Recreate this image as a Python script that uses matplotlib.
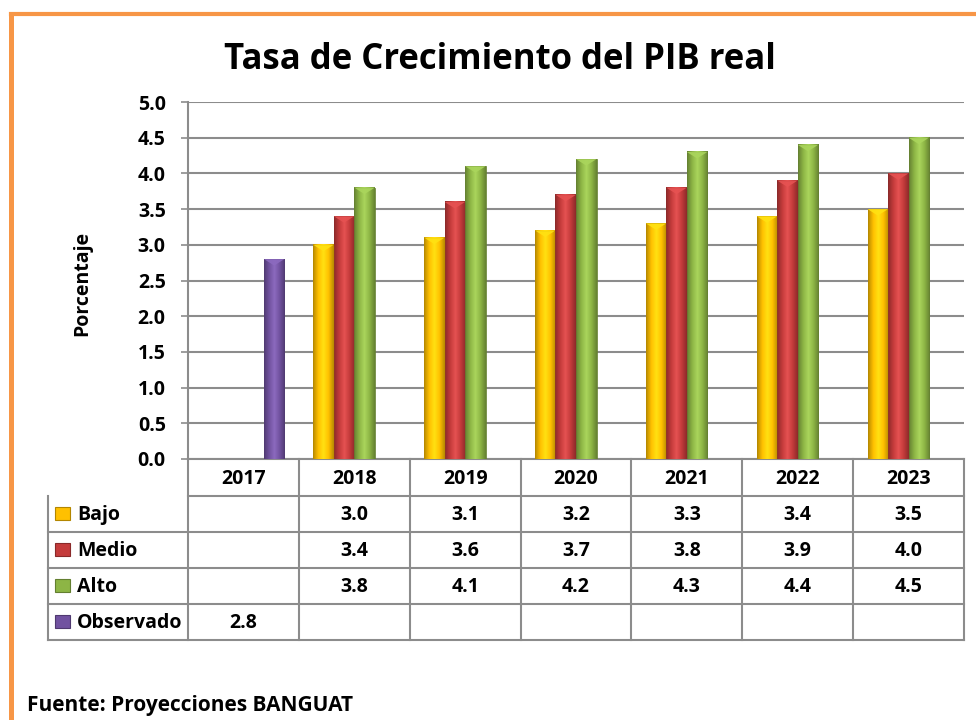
import numpy as np
import matplotlib
matplotlib.use("Agg")
import matplotlib.pyplot as plt
from matplotlib.colors import LinearSegmentedColormap, to_rgb
from matplotlib.patches import Rectangle, Polygon

# data
years = ["2017", "2018", "2019", "2020", "2021", "2022", "2023"]
series = ["Bajo", "Medio", "Alto", "Observado"]
bajo = [None, 3.0, 3.1, 3.2, 3.3, 3.4, 3.5]
medio = [None, 3.4, 3.6, 3.7, 3.8, 3.9, 4.0]
alto = [None, 3.8, 4.1, 4.2, 4.3, 4.4, 4.5]
observado = [2.8, None, None, None, None, None, None]
values = [bajo, medio, alto, observado]
colors = ["#FFC000", "#C43B3B", "#8DB545", "#7152A0"]

plt.rcParams['font.family'] = ['Open Sans', 'DejaVu Sans']
plt.rcParams['font.weight'] = 'bold'

W, H = 976, 720
# plot area in pixels
L, R, T, B = 188, 964, 102, 459
grid_c = "#8C8C8C"
fs = 14

fig = plt.figure(figsize=(W / 100, H / 100), dpi=100)
ax = fig.add_axes([L / W, 1 - B / H, (R - L) / W, (B - T) / H])


def shaded_bar(ax, x0, w, h, c):
    r, g, b = to_rgb(c)
    dark = (r * 0.72, g * 0.72, b * 0.72)
    light = tuple(min(1, v * 1.08 + 0.07) for v in (r, g, b))
    cmap = LinearSegmentedColormap.from_list("s", [dark, c, light, c, dark])
    ax.imshow(np.linspace(0, 1, 64).reshape(1, -1), cmap=cmap,
              extent=[x0, x0 + w, 0, h], aspect='auto', zorder=3)
    ax.add_patch(Rectangle((x0, 0), w, h, fill=False, ec=dark, lw=0.6, zorder=4))
    # bevel on top
    ax.add_patch(Polygon([(x0, h), (x0 + w, h), (x0 + w / 2, h - 0.09)],
                         closed=True, fc=light, ec='none', zorder=4, alpha=0.9))


bw = 0.185
x = np.arange(len(years))
for k, (vals, c) in enumerate(zip(values, colors)):
    for i, v in enumerate(vals):
        if v is None:
            continue
        x0 = x[i] + (k - 1.5) * bw - bw / 2
        shaded_bar(ax, x0, bw, v, c)

ax.set_xlim(-0.5, len(years) - 0.5)
ax.set_ylim(0, 5)
ax.set_yticks(np.arange(0, 5.01, 0.5))
ax.set_yticklabels([f"{t:.1f}" for t in np.arange(0, 5.01, 0.5)],
                   fontsize=fs, fontweight='bold')
ax.set_xticks([])
ax.tick_params(axis='y', length=5, width=1.2, color=grid_c, pad=11)
ax.grid(axis='y', color=grid_c, lw=1.5, zorder=0)
ax.set_axisbelow(True)
for s in ['top', 'right']:
    ax.spines[s].set_visible(False)
for s in ['left', 'bottom']:
    ax.spines[s].set_color(grid_c)
    ax.spines[s].set_linewidth(1.5)

# overlay in pixel coordinates for table, title, border
ov = fig.add_axes([0, 0, 1, 1], facecolor='none')
ov.set_xlim(0, W)
ov.set_ylim(H, 0)
ov.axis('off')

ov.text(500, 60, "Tasa de Crecimiento del PIB real", ha='center', va='center',
        fontsize=25, fontweight='bold')
ov.text(82, 283, "Porcentaje", rotation=90, ha='center', va='center',
        fontsize=14, fontweight='bold')
ov.text(27, 706, "Fuente: Proyecciones BANGUAT", ha='left', va='center',
        fontsize=15, fontweight='bold')

# border
ov.plot([10.5, 10.5], [H + 5, 14], color="#F79646", lw=3.6, solid_capstyle='projecting')
ov.plot([10.5, W + 5], [14, 14], color="#F79646", lw=3.0, solid_capstyle='projecting')

# data table
cw = (R - L) / len(years)
lab_l = 48
hdr_b = 496
rh = 36
tbl_b = hdr_b + rh * len(series)
lkw = dict(color=grid_c, lw=1.5, solid_capstyle='projecting')
ov.plot([L, R], [hdr_b, hdr_b], **lkw)
for j in range(1, len(series) + 1):
    ov.plot([lab_l, R], [hdr_b + j * rh, hdr_b + j * rh], **lkw)
ov.plot([lab_l, lab_l], [hdr_b, tbl_b], **lkw)
for i in range(len(years) + 1):
    ov.plot([L + i * cw, L + i * cw], [B, tbl_b], **lkw)
for i, yr in enumerate(years):
    ov.text(L + (i + 0.5) * cw, (B + hdr_b) / 2 + 1, yr, ha='center', va='center',
            fontsize=fs, fontweight='bold')
for j, (name, vals, c) in enumerate(zip(series, values, colors)):
    yc = hdr_b + (j + 0.5) * rh
    r, g, b = to_rgb(c)
    ov.add_patch(Rectangle((55, yc - 7), 15, 13, fc=c, ec=(r * 0.7, g * 0.7, b * 0.7), lw=0.8))
    ov.text(77, yc + 1, name, ha='left', va='center', fontsize=fs, fontweight='bold')
    for i, v in enumerate(vals):
        if v is not None:
            ov.text(L + (i + 0.5) * cw, yc + 1, f"{v:.1f}", ha='center', va='center',
                    fontsize=fs, fontweight='bold')

fig.savefig("out.png", dpi=100)
